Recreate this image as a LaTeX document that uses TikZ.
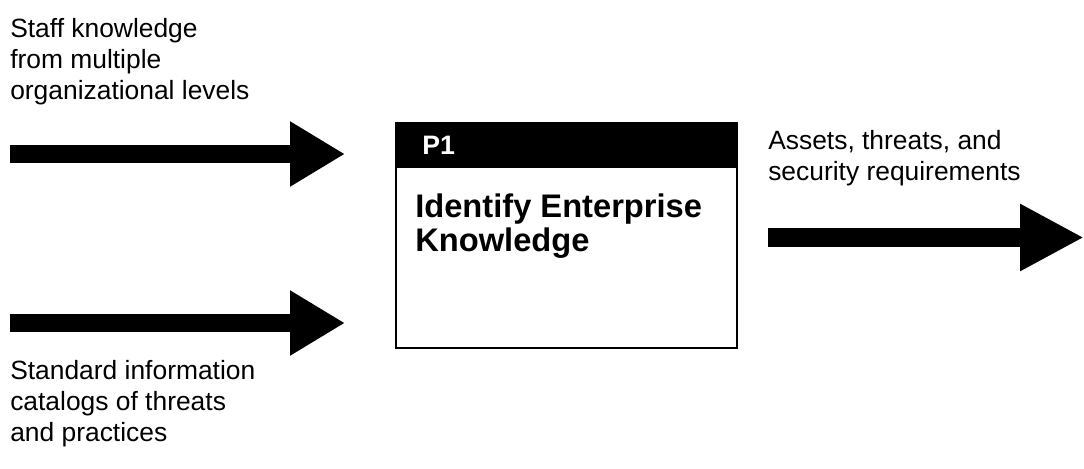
\documentclass[tikz,border=0pt]{standalone}
\usepackage{fontspec}
\setmainfont{Liberation Sans}
\usetikzlibrary{arrows.meta}
\begin{document}
\begin{tikzpicture}[x=0.75pt,y=-0.75pt,
  blockarrow/.style={line width=13.5pt, -{Triangle[length=41.25pt,width=46pt]}},
  lbl/.style={anchor=north west, inner sep=0pt, align=left, font=\fontsize{19.8}{23.3}\selectfont},
  procbox/.style={draw, line width=1.5pt, minimum width=256pt, minimum height=169pt, inner sep=0pt},
  header/.style={fill=black, anchor=north west, minimum width=256pt, minimum height=34pt, inner sep=0pt},
  title/.style={anchor=north west, inner sep=0pt, align=left, font=\bfseries\fontsize{24.5}{25}\selectfont}]
\useasboundingbox (0,0) rectangle (1084,468);
% process box
\node[procbox, anchor=north west] (box) at (395,122) {};
\node[header] (hdr) at (box.north west) {};
\node[anchor=west, inner sep=0pt, text=white, font=\bfseries\fontsize{20}{24}\selectfont] (p1) at (422,145) {P1};
\node[title] (ttl) at (415,194) {Identify Enterprise\\Knowledge};
% input labels
\node[lbl] (in1) at (10,18) {Staff knowledge\\from multiple\\organizational levels};
\node[lbl] (in2) at (10,360) {Standard information\\catalogs of threats\\and practices};
\node[lbl] (out1) at (768,130) {Assets, threats, and\\security requirements};
% arrows
\coordinate (a1s) at (10,154);
\coordinate (a1e) at (345,154);
\coordinate (a2s) at (10,323);
\coordinate (a2e) at (345,323);
\coordinate (a3s) at (768,237.5);
\coordinate (a3e) at (1084,237.5);
\draw[blockarrow] (a1s) -- (a1e);
\draw[blockarrow] (a2s) -- (a2e);
\draw[line width=14pt, -{Triangle[length=48pt,width=47pt]}] (a3s) -- (a3e);
\end{tikzpicture}
\end{document}
